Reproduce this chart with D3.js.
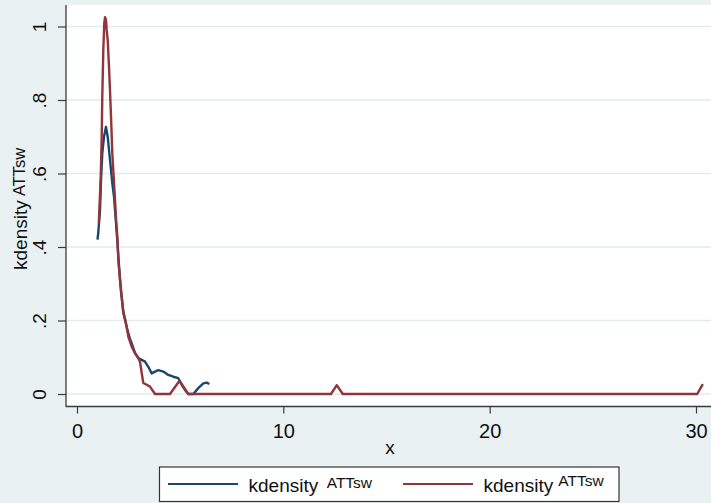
<!DOCTYPE html>
<html>
<head>
<meta charset="utf-8">
<script src="https://cdn.jsdelivr.net/npm/d3@7"></script>
<style>
  html, body { margin: 0; padding: 0; background: #eaf1f3; }
  svg { display: block; font-family: "Liberation Sans", Arial, sans-serif; }
</style>
</head>
<body>
<svg id="chart" width="711" height="503"></svg>
<script>
// Kernel density estimates of ATTsw for the two samples
const blueX = [0.994, 1.032, 1.115, 1.163, 1.226, 1.309, 1.406, 1.488, 1.551, 1.648, 1.711, 1.793, 1.842, 1.890,
  1.963, 2.036, 2.132, 2.244, 2.326, 2.423, 2.569, 2.651, 2.811, 2.971, 3.136, 3.296, 3.456, 3.620, 3.780,
  3.940, 4.183, 4.425, 4.667, 4.910, 5.074, 5.234, 5.394, 5.637, 5.879, 6.121, 6.286, 6.412];
const blueY = [0.420, 0.440, 0.500, 0.580, 0.655, 0.700, 0.727, 0.700, 0.664, 0.610, 0.574, 0.537, 0.500, 0.465,
  0.410, 0.350, 0.280, 0.225, 0.205, 0.178, 0.150, 0.138, 0.112, 0.098, 0.093, 0.088, 0.074, 0.056, 0.061,
  0.065, 0.061, 0.052, 0.047, 0.043, 0.025, 0.011, 0.000, 0.000, 0.016, 0.029, 0.031, 0.027];

const redX = [1.057, 1.149, 1.197, 1.226, 1.275, 1.323, 1.357, 1.406, 1.439, 1.488, 1.551, 1.599, 1.648, 1.711,
  1.779, 1.842, 1.905, 1.953, 2.002, 2.084, 2.166, 2.244, 2.409, 2.486, 2.651, 2.811, 2.971, 3.053, 3.136,
  3.213, 3.378, 3.538, 3.780, 4.507, 4.968, 5.394, 12.31, 12.59, 12.88, 30.06, 30.33];
const redY = [0.465, 0.590, 0.700, 0.810, 0.936, 1.010, 1.025, 1.018, 0.990, 0.963, 0.890, 0.827, 0.755, 0.655,
  0.590, 0.528, 0.465, 0.430, 0.365, 0.310, 0.265, 0.220, 0.183, 0.156, 0.129, 0.111, 0.098, 0.088, 0.057,
  0.030, 0.025, 0.020, 0.000, 0.000, 0.036, 0.000, 0.000, 0.024, 0.000, 0.000, 0.027];

const xTicks = [0, 10, 20, 30];
const yTicks = [0, 0.2, 0.4, 0.6, 0.8, 1];
const yTickLabels = ["0", ".2", ".4", ".6", ".8", "1"];
const seriesNames = ["kdensity", "kdensity"];
const seriesSup = ["ATTsw", "ATTsw"];
const seriesColors = ["#1a476f", "#90353b"];

const svg = d3.select("#chart");
const W = 711, H = 503;

// plot region
const plot = { left: 66, top: 5, right: 711, bottom: 406.5 };
const x = d3.scaleLinear().domain([0, 30]).range([77, 696]);
const y = d3.scaleLinear().domain([0, 1]).range([394, 26.5]);

svg.append("rect").attr("x", 0).attr("y", 0).attr("width", W).attr("height", H).attr("fill", "#eaf1f3");
svg.append("rect").attr("x", plot.left).attr("y", plot.top)
  .attr("width", plot.right - plot.left).attr("height", plot.bottom - plot.top).attr("fill", "#ffffff");

// horizontal grid
svg.append("g").selectAll("line").data(yTicks).join("line")
  .attr("x1", plot.left).attr("x2", plot.right)
  .attr("y1", d => y(d)).attr("y2", d => y(d))
  .attr("stroke", "#e3ebee").attr("stroke-width", 1.6);

// density curves
const line = d3.line().x(d => x(d[0])).y(d => y(d[1]));
const blueData = blueX.map((v, i) => [v, blueY[i]]);
const redData = redX.map((v, i) => [v, redY[i]]);
[blueData, redData].forEach((data, i) => {
  svg.append("path").datum(data).attr("d", line)
    .attr("fill", "none").attr("stroke", seriesColors[i]).attr("stroke-width", 2.4)
    .attr("stroke-linejoin", "round");
});

// axes
const axisColor = "#3a3a3a";
const yAxis = svg.append("g").attr("transform", `translate(${plot.left},0)`)
  .call(d3.axisLeft(y).tickValues(yTicks).tickSize(8).tickFormat((d, i) => yTickLabels[i]));
yAxis.select(".domain").remove();
yAxis.selectAll(".tick line").attr("stroke", axisColor).attr("stroke-width", 1.2);
yAxis.selectAll(".tick text")
  .attr("x", null).attr("dy", null).attr("y", null)
  .attr("transform", "translate(-20,0) rotate(-90)")
  .attr("text-anchor", "middle")
  .attr("font-size", 19).attr("fill", "#111")
  .style("font-family", "'Liberation Sans', Arial, sans-serif");

const xAxis = svg.append("g").attr("transform", `translate(0,${plot.bottom})`)
  .call(d3.axisBottom(x).tickValues(xTicks).tickSize(7));
xAxis.select(".domain").remove();
xAxis.selectAll(".tick line").attr("stroke", axisColor).attr("stroke-width", 1.2);
xAxis.selectAll(".tick text")
  .attr("y", 31).attr("dy", null)
  .attr("font-size", 20).attr("fill", "#111")
  .style("font-family", "'Liberation Sans', Arial, sans-serif");

svg.append("line").attr("x1", plot.left).attr("x2", plot.left)
  .attr("y1", plot.top).attr("y2", plot.bottom + 0.6)
  .attr("stroke", axisColor).attr("stroke-width", 1.3);
svg.append("line").attr("x1", plot.left).attr("x2", plot.right)
  .attr("y1", plot.bottom).attr("y2", plot.bottom)
  .attr("stroke", axisColor).attr("stroke-width", 1.3);

// axis titles
svg.append("text").attr("x", 390).attr("y", 453.5).attr("text-anchor", "middle")
  .attr("font-size", 19).attr("fill", "#111").text("x");

const yTitle = svg.append("text").attr("transform", "translate(27,270) rotate(-90)")
  .attr("font-size", 19).attr("fill", "#111");
yTitle.append("tspan").text(seriesNames[0]);
yTitle.append("tspan").attr("x", 74).attr("dy", -2.5).attr("font-size", 16.5).text(seriesSup[0]);

// legend
const legend = svg.append("g");
legend.append("rect").attr("x", 159.5).attr("y", 467).attr("width", 459.5).attr("height", 34.5)
  .attr("fill", "#ffffff").attr("stroke", "#333").attr("stroke-width", 1.2);
const entries = [
  { lx: 168, tx: 248.5, sx: 326.7, sup: 4 },
  { lx: 403, tx: 483.5, sx: 558.3, sup: 5.5 }
];
entries.forEach((e, i) => {
  legend.append("line").attr("x1", e.lx).attr("x2", e.lx + 70).attr("y1", 484).attr("y2", 484)
    .attr("stroke", seriesColors[i]).attr("stroke-width", 2.2);
  legend.append("text").attr("x", e.tx).attr("y", 491.5).attr("font-size", 19).attr("fill", "#111")
    .text(seriesNames[i]);
  legend.append("text").attr("x", e.sx).attr("y", 491.5 - e.sup).attr("font-size", 15.5).attr("fill", "#111")
    .text(seriesSup[i]);
});
</script>
</body>
</html>
